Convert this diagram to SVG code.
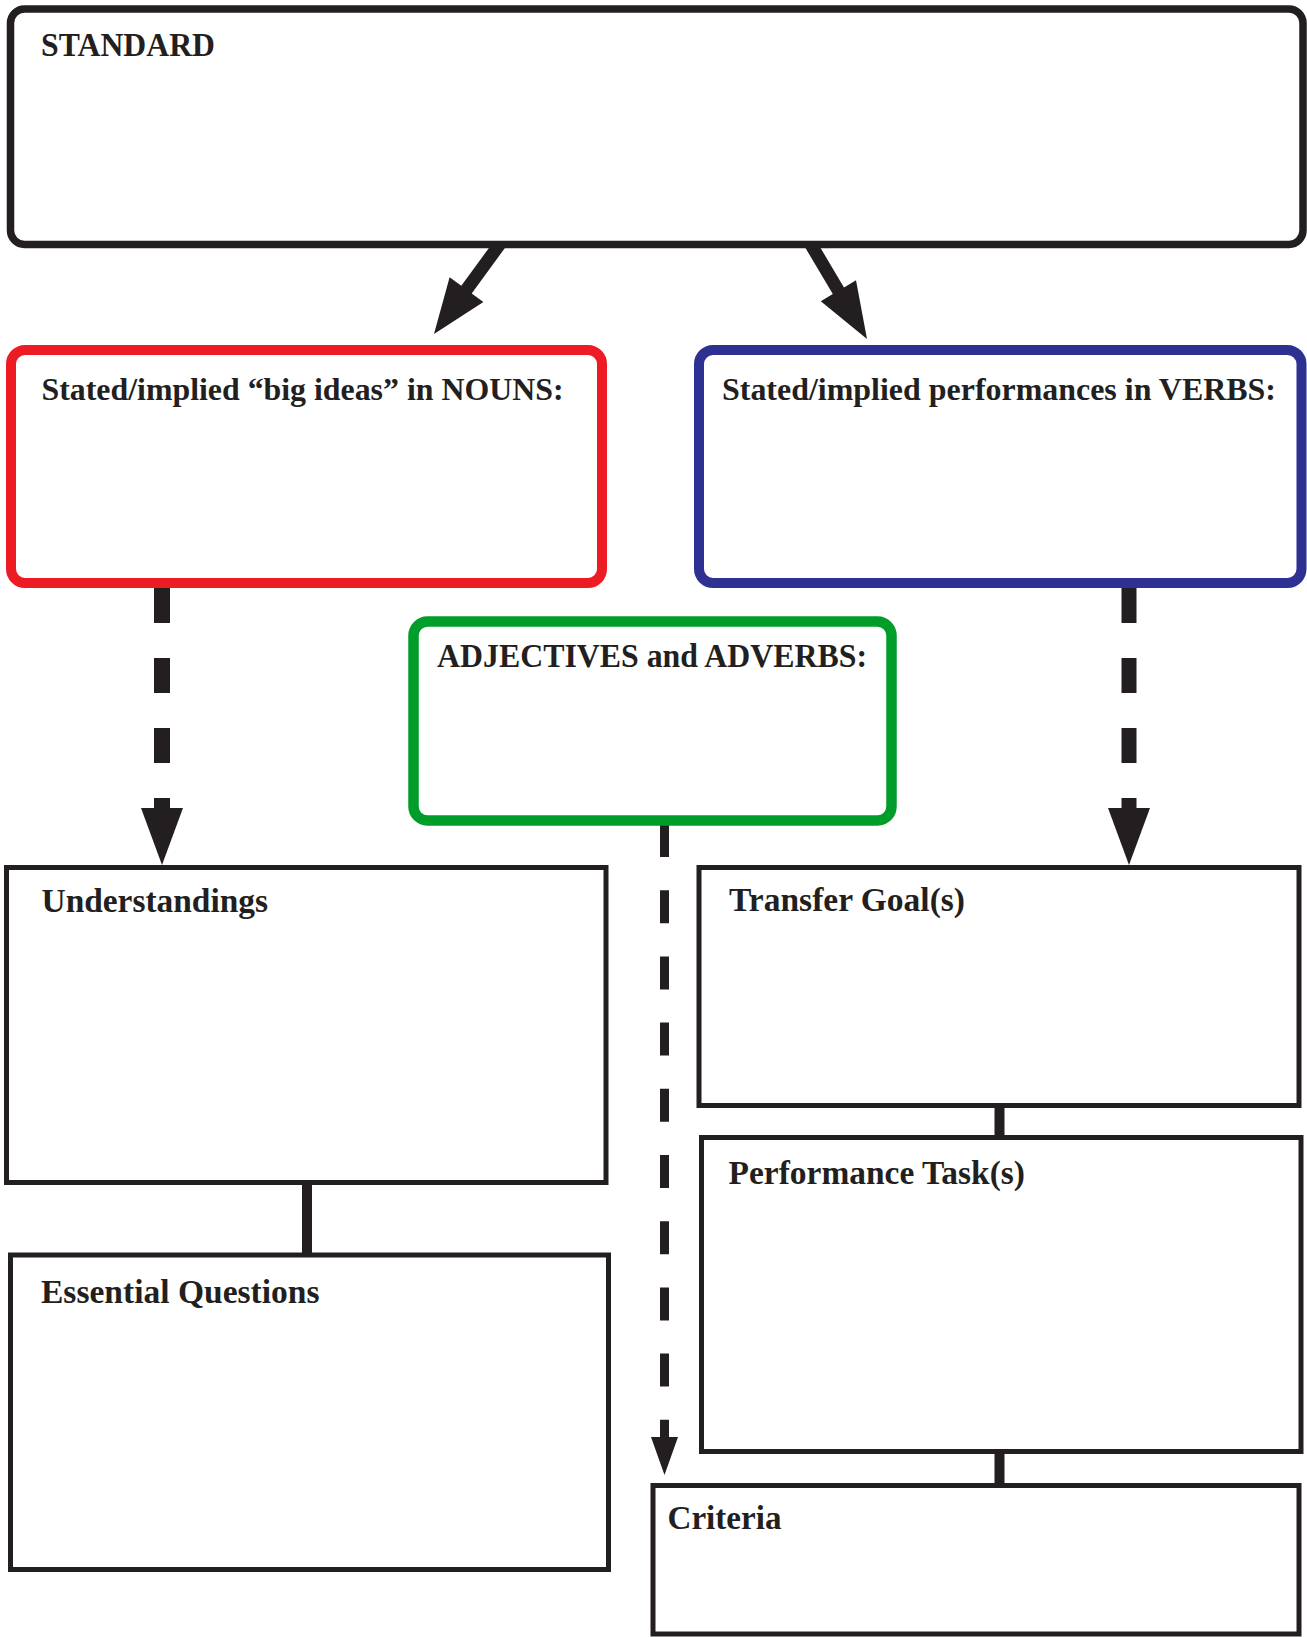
<svg xmlns="http://www.w3.org/2000/svg" width="1307" height="1637" viewBox="0 0 1307 1637">
<style>
.box{fill:#fff;stroke:#231f20}
.thin{stroke-width:5}
.lbl{font-family:"Liberation Serif","Times New Roman",serif;font-weight:bold;fill:#231f20}
.conn{stroke:#231f20;fill:none}
.head{fill:#231f20}
</style>
<rect width="1307" height="1637" fill="#fff"/>
<g id="connectors">
<polygon class="head" points="491.1,245 507.1,245 471.7,293.4 483.4,302 434,334 449.6,277.2 461.3,285.8"/>
<polygon class="head" points="803.7,245 818.8,245 844,287.5 856,280.3 867,339 820.8,301.3 832.8,294.1"/>
<path class="conn" d="M162 588V810" stroke-width="16" stroke-dasharray="35 35"/>
<polygon class="head" points="141,808 183,808 162,865"/>
<path class="conn" d="M1129 588V810" stroke-width="15" stroke-dasharray="35 35"/>
<polygon class="head" points="1108,808 1150,808 1129,865"/>
<path class="conn" d="M664.5 824V1440" stroke-width="9" stroke-dasharray="33 33.2"/>
<polygon class="head" points="651,1437 678,1437 664.5,1475"/>
<path class="conn" d="M307 1183V1256" stroke-width="10"/>
<path class="conn" d="M999.5 1104V1139" stroke-width="10"/>
<path class="conn" d="M999.5 1450V1487" stroke-width="10"/>
</g>
<g id="standard">
<rect class="box" x="10.5" y="9" width="1292.5" height="235.5" rx="14" stroke-width="7.5"/>
<text class="lbl" x="41" y="56" font-size="34" textLength="174" lengthAdjust="spacingAndGlyphs">STANDARD</text>
</g>
<g id="nouns">
<rect class="box" x="11" y="350" width="591" height="233" rx="14" style="stroke:#ed1c24" stroke-width="10"/>
<text class="lbl" x="41.5" y="400" font-size="31" textLength="522" lengthAdjust="spacingAndGlyphs">Stated/implied “big ideas” in NOUNS:</text>
</g>
<g id="verbs">
<rect class="box" x="699" y="350" width="602.5" height="233" rx="14" style="stroke:#2e3192" stroke-width="10"/>
<text class="lbl" x="722" y="400" font-size="31" textLength="554" lengthAdjust="spacingAndGlyphs">Stated/implied performances in VERBS:</text>
</g>
<g id="adjectives">
<rect class="box" x="413.5" y="621.5" width="478" height="199" rx="14" style="stroke:#009d2a" stroke-width="10.5"/>
<text class="lbl" x="437" y="667" font-size="33.5" textLength="430" lengthAdjust="spacingAndGlyphs">ADJECTIVES and ADVERBS:</text>
</g>
<g id="understandings">
<rect class="box thin" x="6.5" y="867.5" width="599.5" height="315"/>
<text class="lbl" x="41.5" y="911.5" font-size="33" textLength="226.5" lengthAdjust="spacingAndGlyphs">Understandings</text>
</g>
<g id="essential-questions">
<rect class="box thin" x="10.5" y="1255" width="598" height="314.5"/>
<text class="lbl" x="41" y="1303" font-size="33" textLength="278.5" lengthAdjust="spacingAndGlyphs">Essential Questions</text>
</g>
<g id="transfer-goals">
<rect class="box thin" x="699" y="867.5" width="600" height="238"/>
<text class="lbl" x="729" y="911" font-size="33" textLength="236" lengthAdjust="spacingAndGlyphs">Transfer Goal(s)</text>
</g>
<g id="performance-tasks">
<rect class="box thin" x="701.5" y="1137.5" width="599.5" height="314"/>
<text class="lbl" x="728.5" y="1184" font-size="33" textLength="296.5" lengthAdjust="spacingAndGlyphs">Performance Task(s)</text>
</g>
<g id="criteria">
<rect class="box thin" x="653" y="1485.5" width="646" height="148.5"/>
<text class="lbl" x="667.5" y="1529" font-size="33" textLength="114" lengthAdjust="spacingAndGlyphs">Criteria</text>
</g>
</svg>
